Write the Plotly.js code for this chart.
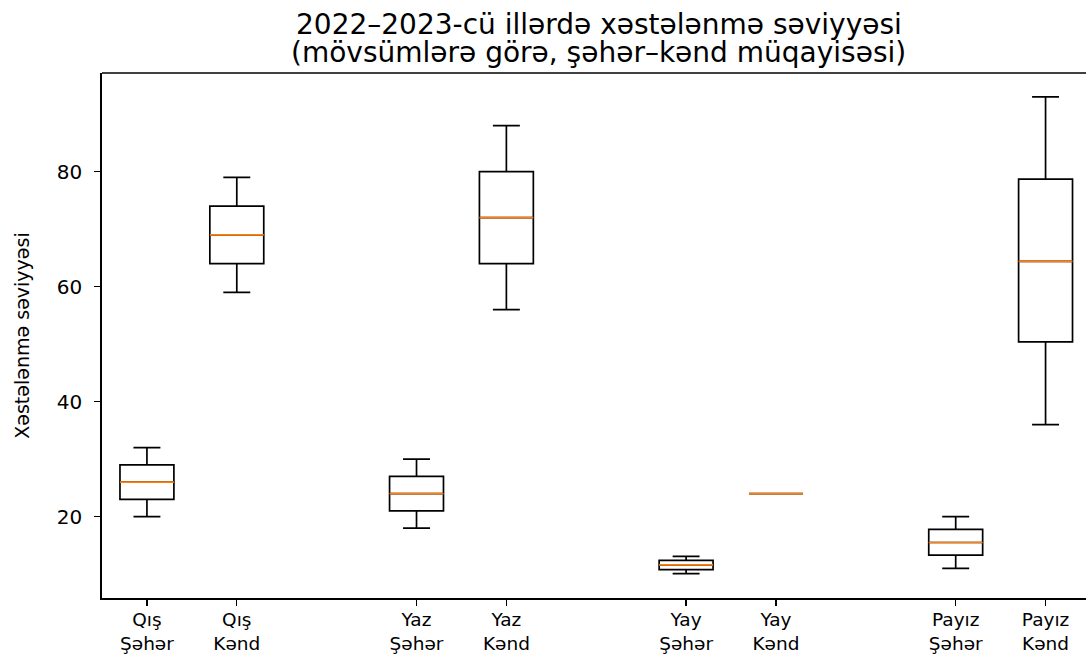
<!DOCTYPE html>
<html>
<head>
<meta charset="utf-8">
<script src="https://cdn.plot.ly/plotly-3.0.1.min.js"></script>
<style>html,body{margin:0;padding:0;background:#fff;}#chart{width:1086px;height:657px;}</style>
</head>
<body>
<div id="chart"></div>
<script>
const positions = [1, 2, 4, 5, 7, 8, 10, 11];
const tickLabels = ["Qış<br>Şəhər", "Qış<br>Kənd", "Yaz<br>Şəhər", "Yaz<br>Kənd", "Yay<br>Şəhər", "Yay<br>Kənd", "Payız<br>Şəhər", "Payız<br>Kənd"];
const lowerFence = [20, 59, 18, 56, 10.1, 24, 11, 36];
const q1Values   = [23, 64, 21, 64, 10.8, 24, 13.3, 50.4];
const medians    = [26, 69, 24, 72, 11.6, 24, 15.5, 64.4];
const q3Values   = [29, 74, 27, 80, 12.4, 24, 17.8, 78.7];
const upperFence = [32, 79, 30, 88, 13.1, 24, 20, 93];
const titleLine1 = '2022–2023-cü illərdə xəstələnmə səviyyəsi';
const titleLine2 = '(mövsümlərə görə, şəhər–kənd müqayisəsi)';
const yTitle = 'Xəstələnmə səviyyəsi';

const boxWidth = 0.6;

const boxTrace = {
  type: 'box',
  x: positions,
  q1: q1Values,
  median: medians,
  q3: q3Values,
  lowerfence: lowerFence,
  upperfence: upperFence,
  width: boxWidth,
  whiskerwidth: 0.5,
  fillcolor: 'rgba(255,255,255,0)',
  line: {color: '#000000', width: 1.7},
  boxpoints: false,
  hoverinfo: 'skip',
  showlegend: false
};

const mx = [], my = [];
positions.forEach((p, i) => {
  mx.push(p - boxWidth / 2, p + boxWidth / 2, null);
  my.push(medians[i], medians[i], null);
});
const medianTrace = {
  type: 'scatter', mode: 'lines', x: mx, y: my,
  line: {color: '#ff7f0e', width: 1.7},
  hoverinfo: 'skip', showlegend: false
};

const layout = {
  width: 1086, height: 657,
  margin: {l: 102, r: 0, t: 73, b: 59},
  paper_bgcolor: '#ffffff', plot_bgcolor: '#ffffff',
  font: {family: 'DejaVu Sans', color: '#000000'},
  title: {
    text: titleLine1,
    font: {family: 'DejaVu Sans', size: 28, color: '#000000'},
    x: 0.505, xanchor: 'center', xref: 'paper',
    y: 1 - 24 / 657, yanchor: 'middle', yref: 'container'
  },
  annotations: [{
    text: titleLine2, showarrow: false,
    xref: 'paper', yref: 'paper', x: 0.505, xanchor: 'center',
    y: 1 + 20 / 525, yanchor: 'middle',
    font: {family: 'DejaVu Sans', size: 28, color: '#000000'}
  }],
  xaxis: {
    range: [0.5, 11.45],
    tickmode: 'array', tickvals: positions, ticktext: tickLabels,
    showgrid: false, zeroline: false,
    showline: true, linecolor: '#000000', linewidth: 1.7, mirror: false,
    ticks: 'outside', ticklen: 6, tickwidth: 1.4, tickcolor: '#000000',
    ticklabelstandoff: -2,
    tickfont: {family: 'DejaVu Sans', size: 18.5, color: '#000000'}
  },
  yaxis: {
    range: [5.85, 97.15],
    tickvals: [20, 40, 60, 80],
    showgrid: false, zeroline: false,
    showline: true, linecolor: '#000000', linewidth: 1.7, mirror: false,
    ticks: 'outside', ticklen: 6, tickwidth: 1.4, tickcolor: '#000000',
    ticklabelstandoff: 8,
    tickfont: {family: 'DejaVu Sans', size: 20, color: '#000000'},
    title: {text: yTitle, font: {family: 'DejaVu Sans', size: 19, color: '#000000'}, standoff: 22}
  },
  shapes: [{
    type: 'line', xref: 'paper', yref: 'paper', x0: 0, x1: 1, y0: 1, y1: 1,
    line: {color: '#000000', width: 1.7}
  }]
};

Plotly.newPlot('chart', [boxTrace, medianTrace], layout, {displayModeBar: false, staticPlot: true});
</script>
</body>
</html>
